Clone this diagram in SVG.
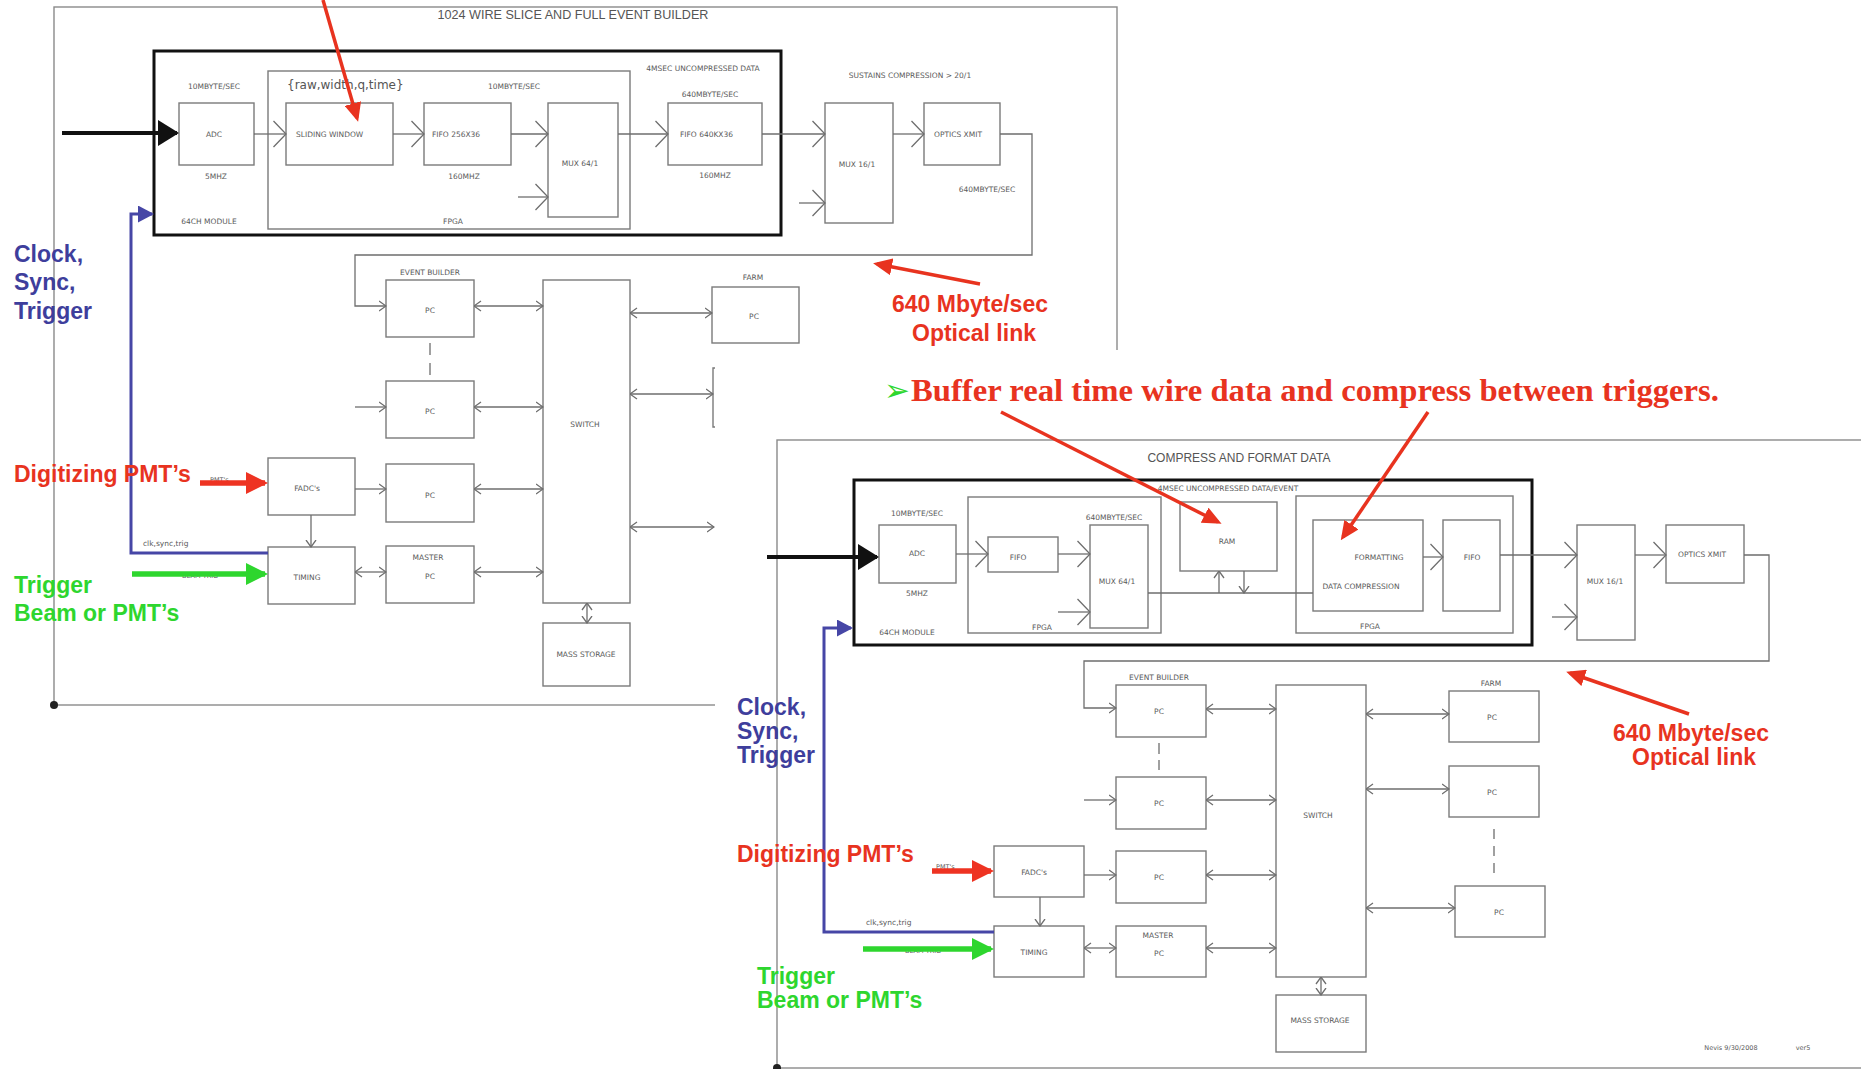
<svg xmlns="http://www.w3.org/2000/svg" width="1861" height="1069" viewBox="0 0 1861 1069">
<style>
.bx{fill:none;stroke:#7a7a7a;stroke-width:1.4}
.mod{fill:none;stroke:#111;stroke-width:3}
.frm{fill:none;stroke:#8a8a8a;stroke-width:1.4}
.ln{fill:none;stroke:#6e6e6e;stroke-width:1.3}
.t{font-family:"DejaVu Sans",Verdana,sans-serif;font-size:7.5px;fill:#5a5a5a;text-anchor:middle}
.ts{font-family:"DejaVu Sans",Verdana,sans-serif;font-size:7.5px;fill:#5a5a5a}
.ttl{font-family:"Liberation Sans",Arial,sans-serif;font-size:12.6px;fill:#555;text-anchor:middle}
.big{font-family:"Liberation Sans",Arial,sans-serif;font-weight:bold;font-size:23px}
.opt{font-family:"Liberation Sans",Arial,sans-serif;font-weight:bold;font-size:23px;fill:#e8331f;text-anchor:middle}
.blue{fill:#3e3e9c}.red{fill:#e8331f}.green{fill:#2ed62e}
.bline{fill:none;stroke:#4646a6;stroke-width:3}
.rline{fill:none;stroke:#e8331f;stroke-width:3.5}
.pmt{fill:none;stroke:#ee3322;stroke-width:5.5}
.gline{fill:none;stroke:#2ed62e;stroke-width:5.5}
.kline{fill:none;stroke:#111;stroke-width:4}
.dash{fill:none;stroke:#6e6e6e;stroke-width:1.3;stroke-dasharray:12 8}
</style>
<defs>
<marker id="ob" viewBox="0 0 14 28" markerWidth="14" markerHeight="28" refX="13" refY="14" orient="auto" markerUnits="userSpaceOnUse"><path d="M0.5,1 L13,14 L0.5,27" fill="none" stroke="#6e6e6e" stroke-width="1.3"/></marker>
<marker id="os" viewBox="0 0 8 12" markerWidth="8" markerHeight="12" refX="7.5" refY="6" orient="auto-start-reverse" markerUnits="userSpaceOnUse"><path d="M0.5,1 L7.5,6 L0.5,11" fill="none" stroke="#6e6e6e" stroke-width="1.3"/></marker>
<marker id="rh" viewBox="0 0 19 17" markerWidth="19" markerHeight="17" refX="15" refY="8.5" orient="auto" markerUnits="userSpaceOnUse"><path d="M0,0 L19,8.5 L0,17z" fill="#e8331f"/></marker>
<marker id="rhb" viewBox="0 0 22 22" markerWidth="22" markerHeight="22" refX="19" refY="11" orient="auto" markerUnits="userSpaceOnUse"><path d="M0,0 L22,11 L0,22z" fill="#ee3322"/></marker>
<marker id="gh" viewBox="0 0 22 22" markerWidth="22" markerHeight="22" refX="19" refY="11" orient="auto" markerUnits="userSpaceOnUse"><path d="M0,0 L22,11 L0,22z" fill="#2ed62e"/></marker>
<marker id="kh" viewBox="0 0 21 26" markerWidth="21" markerHeight="26" refX="19" refY="13" orient="auto" markerUnits="userSpaceOnUse"><path d="M0,0 L21,13 L0,26z" fill="#111"/></marker>
<marker id="bh" viewBox="0 0 16 17" markerWidth="16" markerHeight="17" refX="14" refY="8.5" orient="auto" markerUnits="userSpaceOnUse"><path d="M0,0 L16,8.5 L0,17z" fill="#4646a6"/></marker>
</defs>

<g id="slice1">
<g id="frame1"><rect class="frm" x="54" y="7" width="1063" height="698"/><circle cx="54" cy="705" r="4" fill="#222"/>
<text class="ttl" x="573" y="19">1024 WIRE SLICE AND FULL EVENT BUILDER</text></g>
<g id="module1"><rect class="mod" x="154" y="51" width="627" height="184"/><text class="t" x="209" y="224">64CH MODULE</text><text class="t" x="703" y="71">4MSEC UNCOMPRESSED DATA</text></g>
<g id="adc1"><rect class="bx" x="179" y="103" width="75" height="62"/><text class="t" x="214" y="137">ADC</text><text class="t" x="214" y="89">10MBYTE/SEC</text><text class="t" x="216" y="179">5MHZ</text></g>
<g id="fpga1"><rect class="bx" x="268" y="71" width="362" height="158"/><text class="t" x="453" y="224">FPGA</text>
<text x="287" y="89" style="font-family:'DejaVu Sans',Verdana,sans-serif;font-size:12px;fill:#555">{raw,width,q,time}</text></g>
<g id="sliding"><rect class="bx" x="286" y="103" width="107" height="62"/><text class="ts" x="296" y="137">SLIDING WINDOW</text></g>
<g id="fifo256"><rect class="bx" x="424" y="103" width="87" height="62"/><text class="ts" x="432" y="137">FIFO 256X36</text><text class="t" x="514" y="89">10MBYTE/SEC</text><text class="t" x="464" y="179">160MHZ</text></g>
<g id="mux64a"><rect class="bx" x="548" y="103" width="70" height="114"/><text class="t" x="580" y="166">MUX 64/1</text></g>
<g id="fifo640"><rect class="bx" x="668" y="103" width="94" height="62"/><text class="ts" x="680" y="137">FIFO 640KX36</text><text class="t" x="710" y="97">640MBYTE/SEC</text><text class="t" x="715" y="178">160MHZ</text></g>
<g id="mux16a"><rect class="bx" x="825" y="103" width="68" height="120"/><text class="t" x="857" y="167">MUX 16/1</text><text class="t" x="910" y="78">SUSTAINS COMPRESSION &gt; 20/1</text></g>
<g id="optics1"><rect class="bx" x="924" y="103" width="76" height="62"/><text class="t" x="958" y="137">OPTICS XMIT</text><text class="t" x="987" y="192">640MBYTE/SEC</text></g>
<g id="eb1"><text class="t" x="430" y="275">EVENT BUILDER</text>
<rect class="bx" x="386" y="280" width="88" height="57"/><text class="t" x="430" y="313">PC</text></g>
<g id="eb2"><rect class="bx" x="386" y="381" width="88" height="57"/><text class="t" x="430" y="414">PC</text></g>
<g id="eb3"><rect class="bx" x="386" y="464" width="88" height="58"/><text class="t" x="430" y="498">PC</text></g>
<g id="master1"><rect class="bx" x="386" y="546" width="88" height="57"/><text class="t" x="428" y="560">MASTER</text><text class="t" x="430" y="579">PC</text></g>
<g id="switch1"><rect class="bx" x="543" y="280" width="87" height="323"/><text class="t" x="585" y="427">SWITCH</text></g>
<g id="mass1"><rect class="bx" x="543" y="623" width="87" height="63"/><text class="t" x="586" y="657">MASS STORAGE</text></g>
<g id="farm1"><text class="t" x="753" y="280">FARM</text><rect class="bx" x="712" y="287" width="87" height="56"/><text class="t" x="754" y="319">PC</text></g>
<g id="farm2"><path class="bx" d="M717,368 H713 V427 H717"/></g>
<g id="fadc1"><rect class="bx" x="268" y="458" width="87" height="57"/><text class="t" x="307" y="491">FADC's</text></g>
<g id="timing1"><rect class="bx" x="268" y="547" width="87" height="57"/><text class="t" x="307" y="580">TIMING</text></g>
</g>

<g id="connectors-1">
<line class="ln" x1="254" y1="134" x2="286" y2="134" marker-end="url(#ob)"/>
<line class="ln" x1="393" y1="134" x2="424" y2="134" marker-end="url(#ob)"/>
<line class="ln" x1="511" y1="134" x2="548" y2="134" marker-end="url(#ob)"/>
<line class="ln" x1="518" y1="197" x2="548" y2="197" marker-end="url(#ob)"/>
<line class="ln" x1="618" y1="134" x2="668" y2="134" marker-end="url(#ob)"/>
<line class="ln" x1="762" y1="134" x2="825" y2="134" marker-end="url(#ob)"/>
<line class="ln" x1="799" y1="203" x2="825" y2="203" marker-end="url(#ob)"/>
<line class="ln" x1="893" y1="134" x2="924" y2="134" marker-end="url(#ob)"/>
<path class="ln" d="M1000,134 H1032 V255 H355 V306 H386" marker-end="url(#os)"/>
<line class="dash" x1="430" y1="343" x2="430" y2="375"/>
<line class="ln" x1="355" y1="407" x2="386" y2="407" marker-end="url(#os)"/>
<line class="ln" x1="355" y1="489" x2="386" y2="489" marker-end="url(#os)"/>
<line class="ln" x1="355" y1="572" x2="386" y2="572" marker-start="url(#os)" marker-end="url(#os)"/>
<line class="ln" x1="311" y1="515" x2="311" y2="547" marker-end="url(#os)"/>
<line class="ln" x1="474" y1="306" x2="543" y2="306" marker-start="url(#os)" marker-end="url(#os)"/>
<line class="ln" x1="474" y1="407" x2="543" y2="407" marker-start="url(#os)" marker-end="url(#os)"/>
<line class="ln" x1="474" y1="489" x2="543" y2="489" marker-start="url(#os)" marker-end="url(#os)"/>
<line class="ln" x1="474" y1="572" x2="543" y2="572" marker-start="url(#os)" marker-end="url(#os)"/>
<line class="ln" x1="587" y1="603" x2="587" y2="623" marker-start="url(#os)" marker-end="url(#os)"/>
<line class="ln" x1="630" y1="313" x2="712" y2="313" marker-start="url(#os)" marker-end="url(#os)"/>
<line class="ln" x1="630" y1="394" x2="713" y2="394" marker-start="url(#os)" marker-end="url(#os)"/>
<line class="ln" x1="630" y1="527" x2="714" y2="527" marker-start="url(#os)" marker-end="url(#os)"/>
<line class="kline" x1="62" y1="133" x2="177" y2="133" marker-end="url(#kh)"/>
<text class="ts" x="143" y="546">clk,sync,trig</text>
<path class="bline" d="M268,553 H131 V214 H152" marker-end="url(#bh)"/>
<text class="ts" x="210" y="482" style="font-size:6.5px">PMT's</text>
<line class="pmt" x1="200" y1="483" x2="265" y2="483" marker-end="url(#rhb)"/>
<text class="ts" x="182" y="578" style="font-size:6.5px">BEAM TRIG</text>
<line class="gline" x1="132" y1="574" x2="265" y2="574" marker-end="url(#gh)"/>
</g>

<g id="labels-1">
<text class="big blue" x="14" y="262">Clock,</text>
<text class="big blue" x="14" y="290">Sync,</text>
<text class="big blue" x="14" y="319">Trigger</text>
<text class="big red" x="14" y="482">Digitizing PMT’s</text>
<text class="big green" x="14" y="593">Trigger</text>
<text class="big green" x="14" y="621">Beam or PMT’s</text>
<line class="rline" x1="323" y1="0" x2="357" y2="118" marker-end="url(#rh)"/>
<line class="rline" x1="980" y1="284" x2="877" y2="264" marker-end="url(#rh)"/>
<text class="opt" x="970" y="312">640 Mbyte/sec</text>
<text class="opt" x="974" y="341">Optical link</text>
</g>

<rect id="overlay" x="715" y="350" width="1146" height="719" fill="#fff"/>

<g id="slice2">
<g id="frame2"><rect class="frm" x="777" y="440" width="1090" height="628"/><circle cx="777" cy="1068" r="4" fill="#222"/>
<text x="1239" y="462" style="font-family:'Liberation Sans',Arial,sans-serif;font-size:12px;fill:#555;text-anchor:middle">COMPRESS AND FORMAT DATA</text></g>
<g id="module2"><rect class="mod" x="854" y="480" width="678" height="165"/><text class="t" x="907" y="635">64CH MODULE</text><text class="t" x="1228" y="491">4MSEC UNCOMPRESSED DATA/EVENT</text></g>
<g id="adc2"><rect class="bx" x="879" y="525" width="77" height="58"/><text class="t" x="917" y="556">ADC</text><text class="t" x="917" y="516">10MBYTE/SEC</text><text class="t" x="917" y="596">5MHZ</text></g>
<g id="fpga2a"><rect class="bx" x="968" y="497" width="193" height="136"/><text class="t" x="1042" y="630">FPGA</text></g>
<g id="fifo2a"><rect class="bx" x="988" y="537" width="70" height="35"/><text class="t" x="1018" y="560">FIFO</text></g>
<g id="mux64b"><rect class="bx" x="1090" y="525" width="58" height="103"/><text class="t" x="1117" y="584">MUX 64/1</text><text class="t" x="1114" y="520">640MBYTE/SEC</text></g>
<g id="ram"><rect class="bx" x="1180" y="502" width="97" height="69"/><text class="t" x="1227" y="544">RAM</text></g>
<g id="fpga2b"><rect class="bx" x="1296" y="496" width="217" height="137"/><text class="t" x="1370" y="629">FPGA</text></g>
<g id="format"><rect class="bx" x="1313" y="520" width="110" height="91"/><text class="t" x="1379" y="560">FORMATTING</text><text class="t" x="1361" y="589">DATA COMPRESSION</text></g>
<g id="fifo2b"><rect class="bx" x="1443" y="520" width="57" height="91"/><text class="t" x="1472" y="560">FIFO</text></g>
<g id="mux16b"><rect class="bx" x="1577" y="525" width="58" height="115"/><text class="t" x="1605" y="584">MUX 16/1</text></g>
<g id="optics2"><rect class="bx" x="1666" y="525" width="78" height="58"/><text class="t" x="1702" y="557">OPTICS XMIT</text></g>
<g id="eb2-1"><text class="t" x="1159" y="680">EVENT BUILDER</text><rect class="bx" x="1116" y="685" width="90" height="52"/><text class="t" x="1159" y="714">PC</text></g>
<g id="eb2-2"><rect class="bx" x="1116" y="777" width="90" height="52"/><text class="t" x="1159" y="806">PC</text></g>
<g id="eb2-3"><rect class="bx" x="1116" y="851" width="90" height="52"/><text class="t" x="1159" y="880">PC</text></g>
<g id="master2"><rect class="bx" x="1116" y="926" width="90" height="51"/><text class="t" x="1158" y="938">MASTER</text><text class="t" x="1159" y="956">PC</text></g>
<g id="switch2"><rect class="bx" x="1276" y="685" width="90" height="292"/><text class="t" x="1318" y="818">SWITCH</text></g>
<g id="mass2"><rect class="bx" x="1276" y="995" width="90" height="57"/><text class="t" x="1320" y="1023">MASS STORAGE</text></g>
<g id="farm2-1"><text class="t" x="1491" y="686">FARM</text><rect class="bx" x="1449" y="691" width="90" height="51"/><text class="t" x="1492" y="720">PC</text></g>
<g id="farm2-2"><rect class="bx" x="1449" y="766" width="90" height="51"/><text class="t" x="1492" y="795">PC</text></g>
<g id="farm2-3"><rect class="bx" x="1455" y="886" width="90" height="51"/><text class="t" x="1499" y="915">PC</text></g>
<g id="fadc2"><rect class="bx" x="994" y="846" width="90" height="51"/><text class="t" x="1034" y="875">FADC's</text></g>
<g id="timing2"><rect class="bx" x="994" y="926" width="90" height="51"/><text class="t" x="1034" y="955">TIMING</text></g>
<g id="footer"><text class="t" x="1731" y="1050" style="font-size:6.5px">Nevis 9/30/2008</text><text class="t" x="1803" y="1050" style="font-size:6.5px">ver5</text></g>
</g>

<g id="connectors-2">
<line class="ln" x1="956" y1="554" x2="988" y2="554" marker-end="url(#ob)"/>
<line class="ln" x1="1058" y1="554" x2="1090" y2="554" marker-end="url(#ob)"/>
<line class="ln" x1="1058" y1="612" x2="1090" y2="612" marker-end="url(#ob)"/>
<path class="ln" d="M1148,593 H1313"/>
<line class="ln" x1="1219" y1="593" x2="1219" y2="571" marker-end="url(#os)"/>
<line class="ln" x1="1244" y1="571" x2="1244" y2="593" marker-end="url(#os)"/>
<line class="ln" x1="1423" y1="557" x2="1443" y2="557" marker-end="url(#ob)"/>
<line class="ln" x1="1500" y1="555" x2="1577" y2="555" marker-end="url(#ob)"/>
<line class="ln" x1="1552" y1="617" x2="1577" y2="617" marker-end="url(#ob)"/>
<line class="ln" x1="1635" y1="555" x2="1666" y2="555" marker-end="url(#ob)"/>
<path class="ln" d="M1744,555 H1769 V661 H1084 V708 H1116" marker-end="url(#os)"/>
<line class="dash" x1="1159" y1="743" x2="1159" y2="770" style="stroke-dasharray:11 6"/>
<line class="ln" x1="1084" y1="800" x2="1116" y2="800" marker-end="url(#os)"/>
<line class="ln" x1="1084" y1="875" x2="1116" y2="875" marker-end="url(#os)"/>
<line class="ln" x1="1084" y1="948" x2="1116" y2="948" marker-start="url(#os)" marker-end="url(#os)"/>
<line class="ln" x1="1040" y1="897" x2="1040" y2="926" marker-end="url(#os)"/>
<line class="ln" x1="1206" y1="709" x2="1276" y2="709" marker-start="url(#os)" marker-end="url(#os)"/>
<line class="ln" x1="1206" y1="800" x2="1276" y2="800" marker-start="url(#os)" marker-end="url(#os)"/>
<line class="ln" x1="1206" y1="875" x2="1276" y2="875" marker-start="url(#os)" marker-end="url(#os)"/>
<line class="ln" x1="1206" y1="948" x2="1276" y2="948" marker-start="url(#os)" marker-end="url(#os)"/>
<line class="ln" x1="1321" y1="977" x2="1321" y2="995" marker-start="url(#os)" marker-end="url(#os)"/>
<line class="ln" x1="1366" y1="714" x2="1449" y2="714" marker-start="url(#os)" marker-end="url(#os)"/>
<line class="ln" x1="1366" y1="789" x2="1449" y2="789" marker-start="url(#os)" marker-end="url(#os)"/>
<line class="ln" x1="1366" y1="908" x2="1455" y2="908" marker-start="url(#os)" marker-end="url(#os)"/>
<line class="dash" x1="1494" y1="829" x2="1494" y2="874" style="stroke-dasharray:10 7"/>
<line class="kline" x1="767" y1="557" x2="877" y2="557" marker-end="url(#kh)"/>
<text class="ts" x="866" y="925">clk,sync,trig</text>
<path class="bline" d="M994,932 H824 V628 H851" marker-end="url(#bh)"/>
<text class="ts" x="936" y="869" style="font-size:6.5px">PMT's</text>
<line class="pmt" x1="932" y1="871" x2="991" y2="871" marker-end="url(#rhb)"/>
<text class="ts" x="905" y="953" style="font-size:6.5px">BEAM TRIG</text>
<line class="gline" x1="863" y1="949" x2="991" y2="949" marker-end="url(#gh)"/>
</g>

<g id="labels-2">
<text x="884" y="401" style="font-family:'DejaVu Sans',sans-serif;font-size:31px;fill:#2ed62e">➢</text>
<text x="911" y="401" textLength="808" lengthAdjust="spacingAndGlyphs" style="font-family:'Liberation Serif','Times New Roman',serif;font-weight:bold;font-size:31px;fill:#e8331f">Buffer real time wire data and compress between triggers.</text>
<line class="rline" x1="1001" y1="412" x2="1218" y2="522" marker-end="url(#rh)"/>
<line class="rline" x1="1428" y1="412" x2="1343" y2="537" marker-end="url(#rh)"/>
<text class="big blue" x="737" y="715">Clock,</text>
<text class="big blue" x="737" y="739">Sync,</text>
<text class="big blue" x="737" y="763">Trigger</text>
<text class="big red" x="737" y="862">Digitizing PMT’s</text>
<text class="big green" x="757" y="984">Trigger</text>
<text class="big green" x="757" y="1008">Beam or PMT’s</text>
<line class="rline" x1="1689" y1="714" x2="1570" y2="673" marker-end="url(#rh)"/>
<text class="opt" x="1691" y="741">640 Mbyte/sec</text>
<text class="opt" x="1694" y="765">Optical link</text>
</g>
</svg>
